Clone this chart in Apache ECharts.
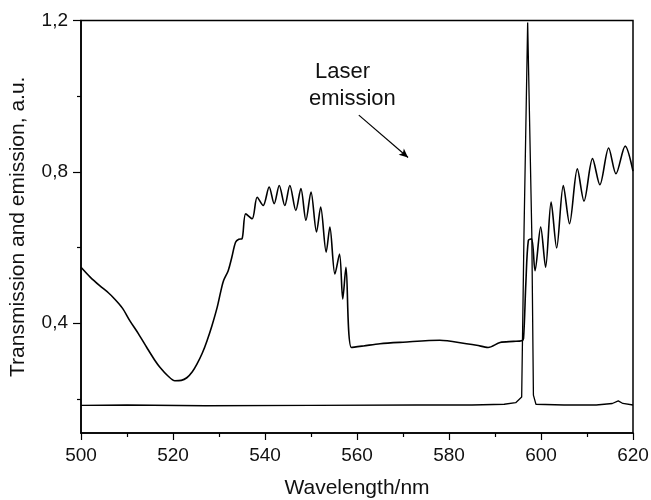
<!DOCTYPE html>
<html>
<head>
<meta charset="utf-8">
<script src="https://cdn.jsdelivr.net/npm/echarts@6/dist/echarts.min.js"></script>
<style>
  html, body { margin: 0; padding: 0; background: #fff; }
  #chart { width: 651px; height: 500px; }
</style>
</head>
<body>
<div id="chart"></div>
<script>
// transmission curve (upper)
var transWl = [500, 502, 504, 506, 507, 509, 510.6, 512.5, 514.3, 516, 517.2, 518.8, 520.4, 521.8, 523, 524.2, 525.2, 526.4, 527.4, 528.5, 529.6, 530.4, 531, 532, 532.8, 533.6, 534.3, 535, 535.8, 537.2, 538.3, 539.6, 540.9, 542, 543.1, 544.3, 545.4, 546.7, 547.8, 548.9, 550, 551.2, 552.1, 553.3, 554.1, 555.2, 556.2, 556.9, 557.6, 558.8, 561.4, 565, 570, 578, 583.8, 586, 588.5, 591.1, 594, 595.8, 596.2, 596.7, 597.25, 597.97, 598.7, 599.93, 601, 602.2, 603.4, 604.85, 606.2, 607.9, 609.35, 611.2, 612.8, 614.7, 616.3, 618.3, 620];
var transVal = [0.548, 0.522, 0.5, 0.48, 0.468, 0.44, 0.407, 0.372, 0.336, 0.303, 0.283, 0.262, 0.248, 0.249, 0.256, 0.272, 0.292, 0.322, 0.354, 0.395, 0.442, 0.485, 0.513, 0.539, 0.575, 0.614, 0.622, 0.623, 0.689, 0.676, 0.733, 0.711, 0.76, 0.716, 0.764, 0.711, 0.764, 0.698, 0.756, 0.672, 0.747, 0.641, 0.707, 0.588, 0.654, 0.53, 0.583, 0.464, 0.548, 0.336, 0.34, 0.346, 0.35, 0.355, 0.346, 0.342, 0.336, 0.349, 0.352, 0.354, 0.36, 0.504, 0.619, 0.623, 0.539, 0.654, 0.548, 0.72, 0.599, 0.764, 0.663, 0.808, 0.723, 0.835, 0.766, 0.863, 0.795, 0.868, 0.802];

// laser emission curve (lower)
var emWl = [500, 510, 527, 550, 573, 585, 592, 594.5, 595.8, 596.3, 597.1, 598, 598.35, 598.9, 605, 612, 615.5, 616.8, 617.8, 620];
var emVal = [0.183, 0.184, 0.182, 0.183, 0.184, 0.184, 0.186, 0.19, 0.205, 0.636, 1.195, 0.636, 0.21, 0.186, 0.184, 0.184, 0.188, 0.195, 0.188, 0.184];

var yLabels = [0.4, 0.8, 1.2];
var yMinor = [0.2, 0.6, 1.0];

function pairs(xs, ys) {
    var out = [];
    for (var i = 0; i < xs.length; i++) out.push([xs[i], ys[i]]);
    return out;
}

var font = 'Liberation Sans, Arial, sans-serif';
var chart = echarts.init(document.getElementById('chart'));

chart.setOption({
    animation: false,
    backgroundColor: '#fff',
    grid: {
        left: 81, right: 18, top: 20.5, bottom: 67,
        outerBoundsMode: 'none',
        show: true, borderColor: '#000', borderWidth: 1.5
    },
    xAxis: {
        type: 'value',
        min: 500, max: 620, interval: 20,
        name: 'Wavelength/nm',
        nameLocation: 'middle',
        nameGap: 45,
        nameTextStyle: { color: '#111', fontSize: 21, fontFamily: font },
        axisLine: { lineStyle: { color: '#000', width: 1.5 } },
        axisTick: { length: 7, lineStyle: { color: '#000', width: 1.2 } },
        minorTick: { show: true, splitNumber: 2, length: 4, lineStyle: { color: '#000', width: 1.2 } },
        axisLabel: { color: '#111', fontSize: 19, fontFamily: font, margin: 13 },
        splitLine: { show: false }
    },
    yAxis: [{
        type: 'value',
        min: 0.11, max: 1.2,
        position: 'left',
        name: 'Transmission and emission, a.u.',
        nameLocation: 'middle',
        nameGap: 52,
        nameTextStyle: { color: '#111', fontSize: 21, fontFamily: font },
        axisLine: { show: true, lineStyle: { color: '#000', width: 1.5 } },
        axisTick: { show: true, length: 8, customValues: yLabels, lineStyle: { color: '#000', width: 1.2 } },
        axisLabel: {
            color: '#111', fontSize: 19, fontFamily: font, margin: 13,
            customValues: yLabels,
            formatter: function (v) { return v.toFixed(1).replace('.', ','); }
        },
        splitLine: { show: false }
    }, {
        type: 'value',
        min: 0.11, max: 1.2,
        position: 'left',
        axisLine: { show: false },
        axisTick: { show: true, length: 4, customValues: yMinor, lineStyle: { color: '#000', width: 1.2 } },
        axisLabel: { show: false },
        splitLine: { show: false }
    }],
    graphic: [
        { type: 'text', left: 315, top: 61, style: { text: 'Laser', font: '22px ' + font, fill: '#111' } },
        { type: 'text', left: 309, top: 88, style: { text: 'emission', font: '22px ' + font, fill: '#111' } }
    ],
    series: [{
        type: 'line',
        data: pairs(transWl, transVal),
        showSymbol: false,
        smooth: 0.3,
        lineStyle: { color: '#000', width: 1.6 },
        markLine: {
            silent: true,
            symbol: ['none', 'arrow'],
            symbolSize: [6, 9],
            label: { show: false },
            lineStyle: { color: '#000', width: 1.2, type: 'solid' },
            data: [[{ coord: [560.4, 0.95] }, { coord: [571.1, 0.838] }]]
        }
    }, {
        type: 'line',
        data: pairs(emWl, emVal),
        showSymbol: false,
        lineStyle: { color: '#000', width: 1.3 }
    }]
});
</script>
</body>
</html>
